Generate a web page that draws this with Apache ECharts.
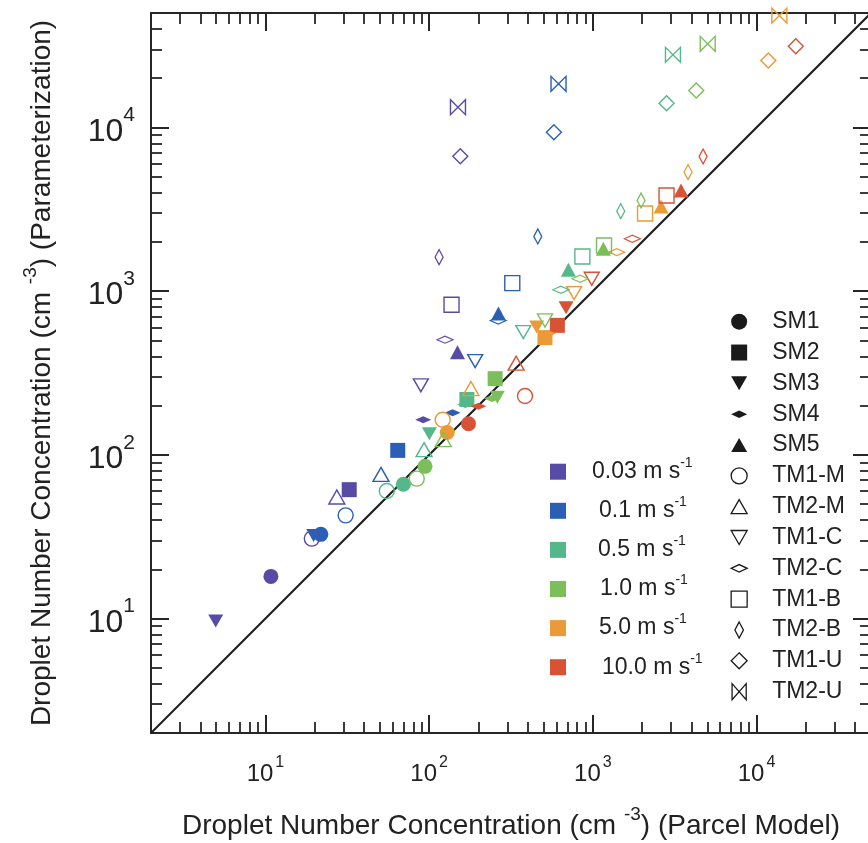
<!DOCTYPE html>
<html>
<head>
<meta charset="utf-8">
<script src="https://cdn.jsdelivr.net/npm/echarts@6/dist/echarts.min.js"></script>
<style>
html,body{margin:0;padding:0;background:#ffffff;}
#chart{width:868px;height:843px;}
</style>
</head>
<body>
<div id="chart"></div>
<script>
// ---------------- data ----------------
const speedLabels = ['0.03', '0.1', '0.5', '1.0', '5.0', '10.0'];
const modelNames = ['SM1', 'SM2', 'SM3', 'SM4', 'SM5', 'TM1-M', 'TM2-M', 'TM1-C', 'TM2-C', 'TM1-B', 'TM2-B', 'TM1-U', 'TM2-U'];

// droplet number (parcel model, x) and (parameterization, y), in modelNames order
const parcel003 = [10.8, 32.5, 4.97, 92, 149, 19.2, 27.3, 89, 125, 137, 115, 155, 150];
const param003  = [18.1, 61.3, 9.67, 164, 424, 30.8, 55.3, 266, 505, 826, 1613, 6670, 13300];

const parcel01 = [21.8, 64.3, 19.7, 139, 265, 30.9, 50.8, 191, 264, 322, 461, 578, 617];
const param01  = [32.7, 106.5, 32.2, 181, 731, 42.7, 76.0, 374, 662, 1119, 2158, 9350, 18460];

const parcel05 = [69.6, 170, 100.3, 166, 709, 55.1, 93.1, 376, 637, 863, 1480, 2820, 3085];
const param05  = [66.1, 218, 134.7, 203, 1351, 60.1, 107.6, 562, 1020, 1629, 3079, 14050, 27750];

const parcel10 = [94.4, 253, 261, 242, 1159, 84.0, 122, 510, 835, 1170, 1970, 4280, 5030];
const param10  = [85.1, 292, 225, 221, 1815, 71.6, 124, 662, 1190, 1901, 3580, 16800, 32400];

const parcel50 = [129, 510, 454, 532, 2610, 121, 180, 768, 1400, 2084, 3815, 11800, 13780];
const param50  = [137, 520, 603, 552, 3290, 164, 254, 972, 1730, 2981, 5330, 25600, 48200];

const parcel100 = [174, 607, 686, 200, 3457, 385, 340, 985, 1743, 2819, 4712, 17360, null];
const param100  = [155, 618, 792, 198, 4120, 229, 363, 1190, 2089, 3839, 6643, 31300, null];

const majorTickValues = [10, 100, 1000, 10000];
const minorTickValues = [3, 4, 5, 6, 7, 8, 9,
  20, 30, 40, 50, 60, 70, 80, 90,
  200, 300, 400, 500, 600, 700, 800, 900,
  2000, 3000, 4000, 5000, 6000, 7000, 8000, 9000,
  20000, 30000, 40000];
const axisMin = 2;
const axisMax = 50000;

// ---------------- styles ----------------
const speedColors = ['#574ba6', '#2a5fb5', '#55b88a', '#7cbf5a', '#ea9a36', '#d85236'];
const legendIndent = [21, 28, 27, 29, 28, 31];
const parcelBySpeed = [parcel003, parcel01, parcel05, parcel10, parcel50, parcel100];
const paramBySpeed = [param003, param01, param05, param10, param50, param100];

const P_DOWN = 'path://M0,0L16,0L8,14Z';
const P_UP = 'path://M8,0L16,14L0,14Z';
const P_FLAT = 'path://M0,4L8.5,0L17,4L8.5,8Z';
const P_THIN = 'path://M4,0L8,7.5L4,15L0,7.5Z';
const P_BOW = 'path://M0,0L0,17L15,0L15,17Z';

const shapeStyle = [
  {symbol: 'circle', size: 15, filled: true, icon: 'circle'},
  {symbol: 'rect', size: 15, filled: true, icon: 'rect'},
  {symbol: P_DOWN, size: [15, 13], filled: true, icon: P_DOWN},
  {symbol: P_FLAT, size: [16, 7], filled: true, icon: P_FLAT},
  {symbol: P_UP, size: [15, 14], filled: true, icon: P_UP},
  {symbol: 'circle', size: 15, filled: false, icon: 'circle'},
  {symbol: P_UP, size: [16, 14], filled: false, icon: P_UP},
  {symbol: P_DOWN, size: [15, 13], filled: false, icon: P_DOWN},
  {symbol: P_FLAT, size: [16, 7], filled: false, icon: P_FLAT},
  {symbol: 'rect', size: 15, filled: false, icon: 'rect'},
  {symbol: P_THIN, size: [8, 15], filled: false, icon: P_THIN},
  {symbol: 'diamond', size: [15, 15], filled: false, icon: 'diamond'},
  {symbol: P_BOW, size: [15, 15], filled: false, icon: P_BOW}
];

const FONT = "'Liberation Sans', Arial, Helvetica, sans-serif";
const INK = '#262626';
const TXT = '#222222';

// ---------------- series ----------------
const series = [];
series.push({
  type: 'line', name: 'one-to-one', xAxisIndex: 0, yAxisIndex: 0,
  data: [[axisMin, axisMin], [axisMax, axisMax]],
  symbol: 'none', silent: true, z: 1,
  lineStyle: {color: '#1c1c1c', width: 2}
});
modelNames.forEach(function (m, mi) {
  const st = shapeStyle[mi];
  const data = [];
  speedLabels.forEach(function (s, si) {
    const x = parcelBySpeed[si][mi];
    const y = paramBySpeed[si][mi];
    if (x == null || y == null) return;
    const c = speedColors[si];
    data.push({
      value: [x, y],
      itemStyle: st.filled ? {color: c, borderWidth: 0, opacity: 1}
                           : {color: 'rgba(0,0,0,0)', borderColor: c, borderWidth: 1.4, opacity: 1}
    });
  });
  series.push({
    type: 'scatter', name: m, xAxisIndex: 0, yAxisIndex: 0,
    data: data, symbol: st.symbol, symbolSize: st.size, z: 2,
    itemStyle: {opacity: 1}
  });
});
speedLabels.forEach(function (s, si) {
  series.push({type: 'scatter', name: s, xAxisIndex: 0, yAxisIndex: 0, data: [],
    itemStyle: {color: speedColors[si], opacity: 1}});
});

// ---------------- axes ----------------
function logAxisBase(grid, pos) {
  return {
    type: 'log', logBase: 10, gridIndex: grid, position: pos,
    min: axisMin, max: axisMax,
    splitLine: {show: false}, minorTick: {show: false}, minorSplitLine: {show: false},
    axisPointer: {show: false}
  };
}
function majorAxis(pos, labelOpt, nameOpt) {
  const a = logAxisBase(0, pos);
  a.axisLine = {show: true, onZero: false, lineStyle: {color: INK, width: 2}};
  a.axisTick = {show: true, inside: true, length: 18, lineStyle: {color: INK, width: 2},
    customValues: majorTickValues};
  a.axisLabel = labelOpt || {show: false};
  if (nameOpt) Object.assign(a, nameOpt);
  return a;
}
function minorAxis(pos) {
  const a = logAxisBase(1, pos);
  a.axisLine = {show: false};
  a.axisTick = {show: true, inside: true, length: 11, lineStyle: {color: INK, width: 1.8},
    customValues: minorTickValues};
  a.axisLabel = {show: false};
  return a;
}
function expLabel(v) {
  return '{b|10}{s|' + Math.round(Math.log10(v)) + '}';
}

const xLabel = {
  show: true, customValues: majorTickValues, margin: 29, formatter: expLabel,
  color: TXT, fontFamily: FONT,
  rich: {
    b: {fontSize: 24, lineHeight: 24, color: TXT, fontFamily: FONT},
    s: {fontSize: 16, lineHeight: 16, padding: [0, 0, 22, 2], color: TXT, fontFamily: FONT}
  }
};
const yLabel = {
  show: true, customValues: majorTickValues, margin: 16, formatter: expLabel,
  color: TXT, fontFamily: FONT,
  rich: {
    b: {fontSize: 32, lineHeight: 32, padding: [9, 0, 0, 0], color: TXT, fontFamily: FONT},
    s: {fontSize: 21, lineHeight: 21, padding: [0, 0, 24, 0], color: TXT, fontFamily: FONT}
  }
};
const nameRich = {
  t: {fontSize: 28, lineHeight: 28, color: TXT, fontFamily: FONT},
  u: {fontSize: 19, lineHeight: 19, padding: [0, 0, 22, 0], color: TXT, fontFamily: FONT}
};
const xName = {
  name: '{t|Droplet Number Concentration (cm }{u|-3}{t|) (Parcel Model)}',
  nameLocation: 'middle', nameGap: 79,
  nameTextStyle: {rich: nameRich, fontFamily: FONT}
};
const yName = {
  name: '{t|Droplet Number Concentration (cm }{u|-3}{t|) (Parameterization)}',
  nameLocation: 'middle', nameGap: 95,
  nameTextStyle: {rich: nameRich, fontFamily: FONT}
};

// ---------------- legends ----------------
const shapeLegendData = modelNames.map(function (m, mi) {
  const st = shapeStyle[mi];
  return {
    name: m, icon: st.icon,
    itemStyle: st.filled ? {color: '#1a1a1a', borderWidth: 0, opacity: 1}
                         : {color: '#ffffff', borderColor: '#1a1a1a', borderWidth: 1.3, opacity: 1}
  };
});
const speedLegendData = speedLabels.map(function (s, si) {
  return {name: s, icon: 'rect', itemStyle: {color: speedColors[si], borderWidth: 0, opacity: 1}};
});
const speedRich = {s: {fontSize: 14, lineHeight: 14, padding: [0, 0, 17, 0], color: TXT, fontFamily: FONT}};
speedLabels.forEach(function (s, si) {
  speedRich['a' + si] = {fontSize: 23, lineHeight: 23, padding: [0, 0, 0, legendIndent[si]], color: TXT, fontFamily: FONT};
});

const option = {
  animation: false,
  backgroundColor: '#ffffff',
  grid: [
    {left: 151, top: 13, width: 720, height: 720, containLabel: false, outerBoundsMode: 'none'},
    {left: 151, top: 13, width: 720, height: 720, containLabel: false, outerBoundsMode: 'none'}
  ],
  xAxis: [
    majorAxis('bottom', xLabel, xName),
    majorAxis('top', null, null),
    minorAxis('bottom'),
    minorAxis('top')
  ],
  yAxis: [
    majorAxis('left', yLabel, yName),
    majorAxis('right', null, null),
    minorAxis('left'),
    minorAxis('right')
  ],
  legend: [
    {
      orient: 'vertical', left: 730.5, top: 310.2, padding: 0,
      itemWidth: 16, itemHeight: 16, itemGap: 7.83,
      selectedMode: false,
      data: shapeLegendData,
      formatter: '{t|{name}}',
      textStyle: {color: TXT, fontFamily: FONT, fontSize: 23, lineHeight: 16,
        rich: {t: {fontSize: 23, lineHeight: 16, padding: [0, 0, 0, 20], color: TXT, fontFamily: FONT}}}
    },
    {
      orient: 'vertical', left: 550, top: 456.2, padding: 0,
      itemWidth: 16, itemHeight: 16, itemGap: 8.1,
      selectedMode: false,
      data: speedLegendData,
      formatter: function (name) {
        const i = speedLabels.indexOf(name);
        return '{a' + i + '|' + name + ' m s}{s|-1}';
      },
      textStyle: {color: TXT, fontFamily: FONT, fontSize: 23, rich: speedRich}
    }
  ],
  series: series
};

const chart = echarts.init(document.getElementById('chart'), null, {renderer: 'canvas'});
chart.setOption(option);
</script>
</body>
</html>
